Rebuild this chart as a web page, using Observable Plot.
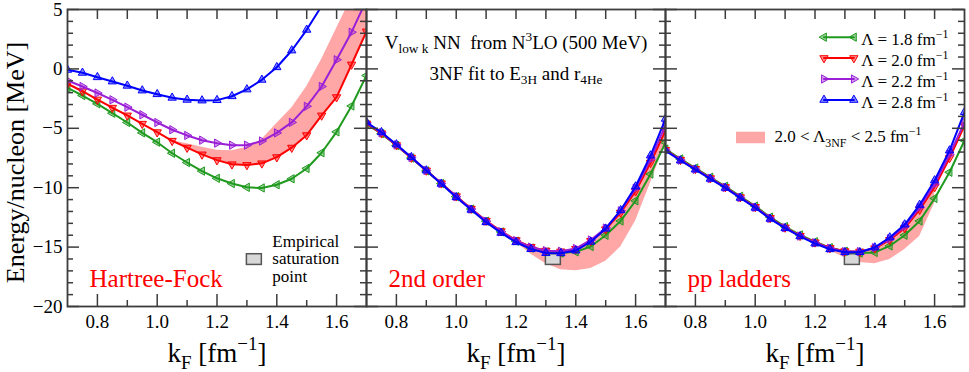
<!DOCTYPE html>
<html><head><meta charset="utf-8">
<script src="https://cdn.jsdelivr.net/npm/d3@7"></script>
<script src="https://cdn.jsdelivr.net/npm/@observablehq/plot@0.6"></script>
<style>
html,body{margin:0;padding:0;background:#fff;}
#chart svg, #chart svg text, #chart svg tspan{font-family:"Liberation Serif","Times New Roman",serif !important;}
svg text{white-space:pre;}
</style></head><body><div id="chart"></div>
<script>
// ---------- data ----------
const panels = ["HF", "2nd", "pp"];
const panelLabels = ["Hartree-Fock", "2nd order", "pp ladders"];
const kF = [0.70,0.75,0.80,0.85,0.90,0.95,1.00,1.05,1.10,1.15,1.20,1.25,1.30,1.35,1.40,1.45,1.50,1.55,1.60,1.65,1.70];
const lambdas = ["1.8", "2.0", "2.2", "2.8"];
const colors = ["#1f9a1f", "#ff0000", "#9a1fd6", "#0000ff"];

// Hartree-Fock
const hf18 = [-1.59,-2.24,-2.94,-3.73,-4.51,-5.38,-6.17,-7.10,-7.88,-8.60,-9.21,-9.65,-9.97,-10.02,-9.75,-9.25,-8.38,-7.06,-5.30,-3.12,-0.56];
const hf20 = [-1.25,-1.88,-2.58,-3.27,-3.92,-4.62,-5.33,-6.05,-6.63,-7.20,-7.68,-8.03,-8.09,-7.95,-7.43,-6.63,-5.58,-3.92,-2.38,0.37,3.15];
const hf22 = [-0.98,-1.48,-2.03,-2.60,-3.22,-3.86,-4.51,-5.12,-5.60,-6.00,-6.25,-6.42,-6.42,-6.07,-5.39,-4.50,-3.15,-1.48,0.77,3.09,5.80];
const hf28 = [-0.08,-0.33,-0.70,-1.06,-1.42,-1.82,-2.13,-2.43,-2.60,-2.66,-2.63,-2.30,-1.73,-0.92,0.14,1.55,3.29,5.30,7.60,10.0,12.7];
// 2nd order
const so18 = [-4.65,-5.45,-6.45,-7.50,-8.58,-9.65,-10.75,-11.80,-12.82,-13.72,-14.50,-15.08,-15.40,-15.50,-15.40,-14.95,-14.00,-12.80,-11.10,-8.85,-6.20];
const so20 = [-4.60,-5.42,-6.42,-7.47,-8.55,-9.63,-10.72,-11.77,-12.78,-13.66,-14.42,-14.98,-15.30,-15.37,-15.15,-14.48,-13.50,-12.10,-10.30,-7.90,-5.20];
const so22 = [-4.55,-5.38,-6.40,-7.45,-8.55,-9.65,-10.75,-11.80,-12.82,-13.70,-14.45,-15.00,-15.30,-15.35,-15.12,-14.40,-13.40,-11.95,-10.05,-7.60,-4.75];
const so28 = [-4.49,-5.33,-6.36,-7.43,-8.55,-9.67,-10.80,-11.86,-12.90,-13.80,-14.59,-15.17,-15.50,-15.52,-15.29,-14.55,-13.45,-11.90,-9.90,-7.29,-4.20];
// pp ladders
const pp18 = [-6.75,-7.58,-8.35,-9.12,-9.88,-10.72,-11.55,-12.48,-13.28,-13.98,-14.55,-15.05,-15.35,-15.50,-15.45,-14.90,-14.00,-12.80,-10.90,-8.70,-6.03];
const pp20 = [-6.82,-7.65,-8.42,-9.20,-9.95,-10.80,-11.62,-12.55,-13.35,-14.05,-14.60,-15.08,-15.35,-15.38,-15.10,-14.40,-13.40,-11.85,-9.95,-7.50,-4.76];
const pp22 = [-6.85,-7.68,-8.45,-9.22,-9.98,-10.82,-11.65,-12.58,-13.37,-14.07,-14.63,-15.10,-15.38,-15.38,-15.05,-14.30,-13.25,-11.65,-9.70,-7.20,-4.50];
const pp28 = [-6.87,-7.71,-8.47,-9.25,-10.01,-10.85,-11.69,-12.62,-13.41,-14.09,-14.70,-15.18,-15.43,-15.43,-15.03,-14.19,-13.10,-11.45,-9.39,-6.87,-3.64];

// 2.0 < Lambda_3NF < 2.5 bands
const bandHFkF = [1.05,1.10,1.15,1.20,1.25,1.30,1.35,1.40,1.45,1.50,1.55,1.60,1.65,1.70];
const bandHFlo = [-6.05,-6.63,-7.20,-7.68,-8.03,-8.09,-7.95,-7.43,-6.63,-5.58,-3.92,-2.38,0.37,3.15];
const bandHFhi = [-6.05,-6.30,-6.60,-6.85,-6.90,-6.60,-5.95,-4.60,-3.30,-1.50,0.80,3.40,6.00,9.00];
const band2kF = [1.20,1.25,1.30,1.35,1.40,1.45,1.50,1.55,1.60,1.65,1.70];
const band2lo = [-14.60,-15.60,-16.40,-16.90,-17.00,-16.80,-16.20,-15.00,-12.80,-9.60,-6.20];
const band2hi = [-14.42,-14.98,-15.30,-15.37,-15.15,-14.48,-13.50,-12.10,-10.30,-7.90,-5.20];
const bandPPkF = [1.20,1.25,1.30,1.35,1.40,1.45,1.50,1.55,1.60];
const bandPPlo = [-14.70,-15.30,-15.90,-16.30,-16.40,-16.05,-15.20,-14.10,-11.30];
const bandPPhi = [-14.60,-15.08,-15.35,-15.38,-15.10,-14.40,-13.40,-11.85,-9.95];

// empirical saturation point
const satKF = [1.30, 1.35];
const satE = [-16.5, -15.6];

// axis ticks
const xTickLabels = [0.8, 1.0, 1.2, 1.4, 1.6];
const yTickLabels = [-20, -15, -10, -5, 0, 5];

// ---------- tables ----------
const seriesByPanel = {HF: [hf18, hf20, hf22, hf28], "2nd": [so18, so20, so22, so28], pp: [pp18, pp20, pp22, pp28]};
const series = [];
panels.forEach(p => seriesByPanel[p].forEach((arr, j) => arr.forEach((E, i) => series.push({panel: p, lam: lambdas[j], kF: kF[i], E}))));
const bands = [];
[["HF", bandHFkF, bandHFlo, bandHFhi], ["2nd", band2kF, band2lo, band2hi], ["pp", bandPPkF, bandPPlo, bandPPhi]]
  .forEach(([p, xs, lo, hi]) => xs.forEach((x, i) => bands.push({panel: p, kF: x, lo: lo[i], hi: hi[i]})));

// ---------- layout ----------
const W = 969, H = 372, mL = 67, mR = 5, mT = 9, mB = 66;
const facetW = (W - mL - mR) / 3, plotH = H - mT - mB;
const axisColor = "#3c3c3c";
const font = "Liberation Serif, Times New Roman, serif";
const bandFill = "#ff4d4d", bandOpacity = 0.5;

function tri(angle) {
  return {draw(ctx, size) {
    const r = Math.sqrt(size / Math.PI);
    for (let k = 0; k < 3; ++k) {
      const a = angle + k * 2 * Math.PI / 3;
      const x = r * Math.sin(a), y = -r * Math.cos(a);
      if (k === 0) ctx.moveTo(x, y); else ctx.lineTo(x, y);
    }
    ctx.closePath();
  }};
}
const symbols = [tri(-Math.PI / 2), tri(Math.PI), tri(Math.PI / 2), tri(0)];

const yMajor = yTickLabels;
const yMinor = d3.range(-20, 6, 1).filter(v => v % 5 !== 0);
const xTop = d3.range(0.8, 1.65, 0.1);
const xBotMinor = [0.9, 1.1, 1.3, 1.5];

const marks = [];
// bands
marks.push(Plot.areaY(bands, {fx: "panel", x: "kF", y1: "lo", y2: "hi", fill: bandFill, fillOpacity: bandOpacity, clip: true}));
// saturation box
marks.push(Plot.rect(panels, {fx: d => d, x1: satKF[0], x2: satKF[1], y1: satE[0], y2: satE[1], fill: "#d8d8d8", stroke: "#555", strokeWidth: 1.5}));
// series
lambdas.forEach((lam, j) => {
  const data = series.filter(d => d.lam === lam);
  marks.push(Plot.line(data, {fx: "panel", x: "kF", y: "E", z: "panel", stroke: colors[j], strokeWidth: 2, clip: true}));
  marks.push(Plot.dot(data, {fx: "panel", x: "kF", y: "E", symbol: symbols[j], r: 4.8, stroke: colors[j], fill: colors[j], fillOpacity: 0.45, strokeWidth: 1, clip: true}));
});
// legend (pp panel)
const legX = [1.23, 1.33];
lambdas.forEach((lam, j) => {
  const yv = 2.67 - j * 1.76;
  const pts = legX.map(x => ({panel: "pp", x, y: yv}));
  marks.push(Plot.line(pts, {fx: "panel", x: "x", y: "y", stroke: colors[j], strokeWidth: 2}));
  marks.push(Plot.dot(pts, {fx: "panel", x: "x", y: "y", symbol: symbols[j], r: 4.8, stroke: colors[j], fill: colors[j], fillOpacity: 0.45, strokeWidth: 1}));
  marks.push(Plot.text([{panel: "pp"}], {fx: "panel", x: 1.355, y: yv, dy: 8, text: () => `Λ = ${lam} fm^{−1}`, textAnchor: "start", lineAnchor: "bottom", fontSize: 17}));
});
marks.push(Plot.rect([{panel: "pp"}], {fx: "panel", x1: 0.9375, x2: 1.0345, y1: -6.3, y2: -5.33, fill: bandFill, fillOpacity: bandOpacity}));
marks.push(Plot.text([{panel: "pp"}], {fx: "panel", x: 1.0645, y: -6.17, text: () => "2.0 < Λ_{3NF} < 2.5 fm^{−1}", textAnchor: "start", lineAnchor: "bottom", fontSize: 17}));
// annotations
marks.push(Plot.text(["2nd"], {fx: d => d, frameAnchor: "top", dy: 39, text: () => "V_{low k} NN  from N^{3}LO (500 MeV)", textAnchor: "middle", lineAnchor: "bottom", fontSize: 19}));
marks.push(Plot.text(["2nd"], {fx: d => d, frameAnchor: "top", dy: 70, text: () => "3NF fit to E_{3H} and r_{4He}", textAnchor: "middle", lineAnchor: "bottom", fontSize: 19}));
marks.push(Plot.text(["HF"], {fx: d => d, x: 1.385, y: -17.9, text: () => "Empirical\nsaturation\npoint", textAnchor: "start", lineAnchor: "bottom", lineHeight: 1.03, fontSize: 17}));
marks.push(Plot.text(panels, {fx: d => d, frameAnchor: "bottom-left", dx: 22, dy: -20, text: (d, i) => panelLabels[i], textAnchor: "start", lineAnchor: "bottom", fill: "#ff0000", fontSize: 25}));
// axis titles
marks.push(Plot.text(panels, {fx: d => d, frameAnchor: "bottom", dy: 55, text: () => "k_{F} [fm^{−1}]", textAnchor: "middle", lineAnchor: "bottom", fontSize: 27}));
marks.push(Plot.text(["HF"], {fx: d => d, frameAnchor: "left", dx: -44, dy: 4.5, rotate: -90, text: () => "Energy/nucleon [MeV]", textAnchor: "middle", lineAnchor: "bottom", fontSize: 26}));
// inward ticks
const tk = {stroke: axisColor, strokeWidth: 1.5};
marks.push(Plot.tickY(yMajor, {y: d => d, insetRight: facetW - 12, ...tk}));
marks.push(Plot.tickY(yMajor, {y: d => d, insetLeft: facetW - 12, ...tk}));
marks.push(Plot.tickY(yMinor, {y: d => d, insetRight: facetW - 6, ...tk}));
marks.push(Plot.tickY(yMinor, {y: d => d, insetLeft: facetW - 6, ...tk}));
marks.push(Plot.tickX(xTop, {x: d => d, insetBottom: plotH - 10, ...tk}));
marks.push(Plot.tickX(xTickLabels, {x: d => d, insetTop: plotH - 12, ...tk}));
marks.push(Plot.tickX(xBotMinor, {x: d => d, insetTop: plotH - 6, ...tk}));
marks.push(Plot.frame({stroke: axisColor, strokeWidth: 1.8}));

const svg = Plot.plot({
  width: W, height: H,
  marginLeft: mL, marginRight: mR, marginTop: mT, marginBottom: mB,
  style: {fontFamily: font, fontSize: "19px", color: "black", background: "white"},
  fx: {domain: panels, padding: 0, axis: null, label: null},
  x: {domain: [0.7, 1.7], ticks: xTickLabels, tickSize: 0, tickPadding: 8, tickFormat: d => d.toFixed(1), label: null},
  y: {domain: [-20, 5], ticks: yTickLabels, tickSize: 0, tickPadding: 5, label: null},
  marks
});
document.getElementById("chart").append(svg);

// rich text: _{sub} and ^{sup}
function richify(el) {
  const s = el.textContent;
  if (!/[_^]\{/.test(s)) return;
  const fs = parseFloat(getComputedStyle(el).fontSize);
  el.textContent = "";
  const re = /([_^])\{([^}]*)\}|([^_^]+)/g;
  let m, shift = 0;
  while ((m = re.exec(s))) {
    const t = document.createElementNS("http://www.w3.org/2000/svg", "tspan");
    let target = 0, txt = m[3];
    if (m[1]) {
      target = m[1] === "_" ? 0.26 * fs : -0.42 * fs;
      txt = m[2];
      t.setAttribute("font-size", 0.7 * fs);
    }
    if (target !== shift) t.setAttribute("dy", target - shift);
    shift = target;
    t.textContent = txt;
    el.appendChild(t);
  }
}
svg.querySelectorAll("text").forEach(richify);
</script></body></html>
